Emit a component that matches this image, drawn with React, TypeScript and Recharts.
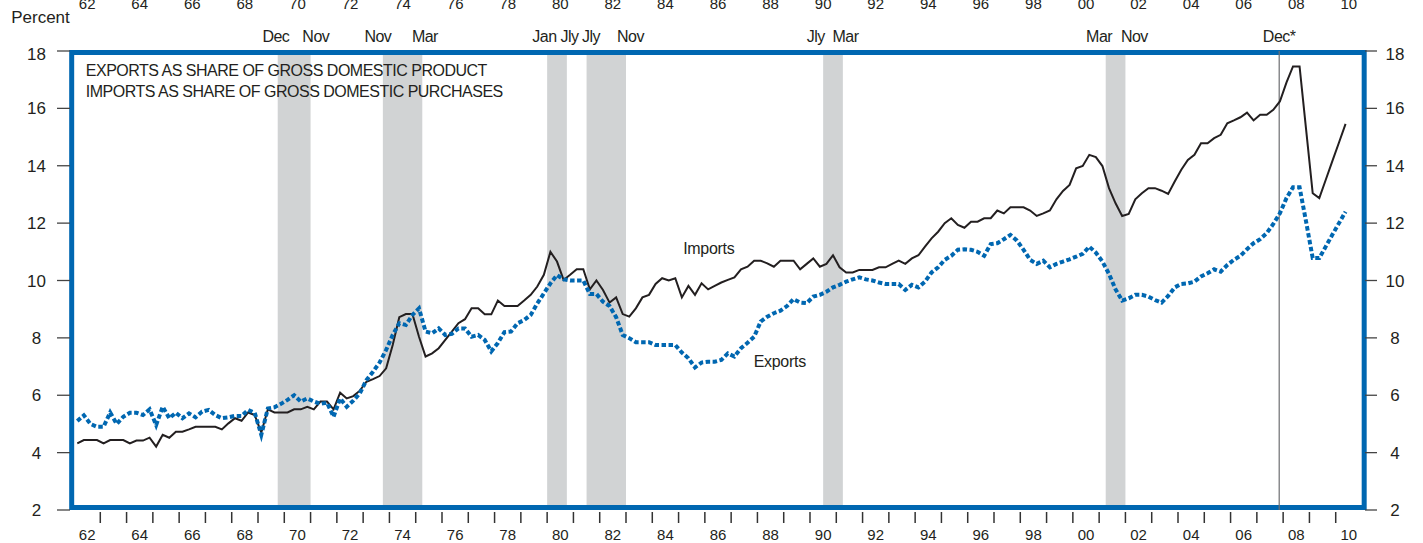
import { LineChart, Line, XAxis, YAxis, ReferenceArea, ReferenceLine, ReferenceDot } from 'recharts'

const START_YEAR = 1962
const END_YEAR = 2011

// quarterly shares, 1962Q1 .. 2010Q2 (percent)
const imports = [
  4.32, 4.44, 4.44, 4.44,
  4.32, 4.44, 4.44, 4.44,
  4.32, 4.42, 4.42, 4.52,
  4.21, 4.62, 4.52, 4.73,
  4.73, 4.81, 4.9, 4.9,
  4.9, 4.9, 4.81, 5.02,
  5.2, 5.11, 5.4, 5.31,
  4.7, 5.51, 5.4, 5.4,
  5.4, 5.51, 5.51, 5.6,
  5.51, 5.78, 5.78, 5.51,
  6.09, 5.89, 5.97, 6.16,
  6.47, 6.56, 6.67, 6.94,
  7.75, 8.72, 8.83, 8.83,
  8.04, 7.35, 7.46, 7.64,
  7.93, 8.22, 8.51, 8.65,
  9.03, 9.03, 8.82, 8.82,
  9.3, 9.11, 9.11, 9.11,
  9.3, 9.5, 9.79, 10.2,
  11.0, 10.66, 10.02, 10.2,
  10.39, 10.39, 9.69, 10.0,
  9.67, 9.23, 9.41, 8.83,
  8.74, 9.03, 9.41, 9.5,
  9.88, 10.08, 10.0, 10.08,
  9.41, 9.81, 9.5, 9.9,
  9.69, 9.81, 9.93, 10.02,
  10.11, 10.39, 10.48, 10.69,
  10.69, 10.6, 10.48, 10.69,
  10.69, 10.69, 10.39, 10.58,
  10.77, 10.48, 10.58, 10.88,
  10.46, 10.28, 10.28, 10.37,
  10.37, 10.37, 10.46, 10.46,
  10.58, 10.69, 10.58, 10.77,
  10.88, 11.18, 11.47, 11.7,
  12.0, 12.17, 11.94, 11.84,
  12.05, 12.05, 12.17, 12.17,
  12.44, 12.34, 12.55, 12.55,
  12.55, 12.44, 12.25, 12.34,
  12.44, 12.83, 13.12, 13.33,
  13.91, 13.99, 14.38, 14.3,
  13.99, 13.22, 12.69, 12.25,
  12.32, 12.83, 13.04, 13.22,
  13.22, 13.13, 13.02, 13.45,
  13.86, 14.2, 14.38, 14.78,
  14.78, 14.96, 15.08, 15.48,
  15.58, 15.69, 15.85, 15.58,
  15.78, 15.78, 15.95, 16.24,
  16.9, 17.46, 17.46, 15.25,
  13.04, 12.87, 13.52, 14.17,
  14.81, 15.46,
]

const exportsShare = [
  5.1, 5.3, 5.0, 4.9,
  4.9, 5.4, 5.0, 5.25,
  5.39, 5.39, 5.31, 5.51,
  4.96, 5.6, 5.2, 5.39,
  5.2, 5.37, 5.23, 5.43,
  5.49, 5.31, 5.2, 5.23,
  5.28, 5.28, 5.49, 5.39,
  4.62, 5.54, 5.58, 5.7,
  5.84, 6.0, 5.78, 5.89,
  5.78, 5.7, 5.74, 5.25,
  5.89, 5.6, 5.81, 6.07,
  6.53, 6.82, 7.14, 7.58,
  8.1, 8.51, 8.45, 8.8,
  9.03, 8.22, 8.16, 8.33,
  8.1, 8.14, 8.33, 8.33,
  8.04, 8.1, 7.93, 7.53,
  7.82, 8.2, 8.22, 8.51,
  8.62, 8.8, 9.2, 9.55,
  9.9, 10.19, 10.04, 10.0,
  10.0, 10.0, 9.53, 9.53,
  9.26, 9.11, 8.72, 8.1,
  7.99, 7.85, 7.85, 7.85,
  7.75, 7.75, 7.75, 7.75,
  7.49, 7.29, 6.97, 7.14,
  7.17, 7.17, 7.23, 7.46,
  7.35, 7.64, 7.83, 8.04,
  8.57, 8.74, 8.86, 8.95,
  9.11, 9.35, 9.23, 9.21,
  9.44, 9.5, 9.61, 9.76,
  9.85, 9.96, 10.04, 10.11,
  10.04, 10.0, 9.93, 9.88,
  9.88, 9.88, 9.67, 9.85,
  9.76, 9.96, 10.28, 10.46,
  10.72, 10.86, 11.07, 11.09,
  11.07, 11.0, 10.86, 11.27,
  11.3, 11.44, 11.59, 11.39,
  11.07, 10.72, 10.58, 10.69,
  10.46, 10.58, 10.66, 10.74,
  10.83, 10.93, 11.18, 10.97,
  10.66, 10.23, 9.69, 9.3,
  9.38, 9.5, 9.5, 9.44,
  9.32, 9.23, 9.46, 9.76,
  9.88, 9.9, 9.96, 10.14,
  10.25, 10.39, 10.31, 10.54,
  10.72, 10.86, 11.09, 11.3,
  11.44, 11.65, 11.97, 12.34,
  12.87, 13.25, 13.25, 12.04,
  10.78, 10.78, 11.19, 11.6,
  12.0, 12.4,
]

// recessions, shaded by quarter
const recessions = [
  [1969.75, 1971.0],
  [1973.75, 1975.25],
  [1980.0, 1980.75],
  [1981.5, 1983.0],
  [1990.5, 1991.25],
  [2001.25, 2002.0],
]

const recessionLabels = [
  { text: 'Dec', at: 1969.68 },
  { text: 'Nov', at: 1971.2 },
  { text: 'Nov', at: 1973.56 },
  { text: 'Mar', at: 1975.35 },
  { text: 'Jan', at: 1979.9 },
  { text: 'Jly', at: 1980.85 },
  { text: 'Jly', at: 1981.67 },
  { text: 'Nov', at: 1983.17 },
  { text: 'Jly', at: 1990.22 },
  { text: 'Mar', at: 1991.35 },
  { text: 'Mar', at: 2001.0 },
  { text: 'Nov', at: 2002.34 },
]

const DEC_2007 = 2007.85
const yTicks = [2, 4, 6, 8, 10, 12, 14, 16, 18]
const yearTicks = Array.from({ length: END_YEAR - START_YEAR + 1 }, (_, i) => START_YEAR + i)
const yearLabelTicks = Array.from({ length: 25 }, (_, i) => START_YEAR + 2 * i + 0.5)
const bottomTicks = [...yearTicks, ...yearLabelTicks].sort((a, b) => a - b)

const quarters = imports.map((_, i) => START_YEAR + Math.floor(i / 4) + ((i % 4) + 0.5) / 4)
const data = quarters.map((t, i) => ({ t, imports: imports[i], exports: exportsShare[i] }))

const BLUE = '#0067b1'
const INK = '#231f20'
const SHADE = '#d1d3d4'
const FONT = '"Liberation Sans", Arial, Helvetica, sans-serif'

const yearLabel = (v: number) => String(Math.floor(v) % 100).padStart(2, '0')

function BottomTick({ x, y, payload }: any) {
  const v = payload.value
  if (Number.isInteger(v)) {
    if (v === START_YEAR || v === END_YEAR) return <g />
    return <line x1={x} x2={x} y1={y + 2} y2={y + 13} stroke="#333" strokeWidth={1.5} />
  }
  return (
    <text x={x} y={y + 30} textAnchor="middle" fontSize={15} fill={INK}>
      {yearLabel(v)}
    </text>
  )
}

function TopTick({ x, y, payload }: any) {
  return (
    <text x={x} y={y - 42.5} textAnchor="middle" fontSize={15} fill={INK}>
      {yearLabel(payload.value)}
    </text>
  )
}

// the top label sits a little low in the original
const labelDy = (v: number) => (v === 18 ? 9 : 6)

function LeftTick({ x, y, payload }: any) {
  return (
    <g>
      <line x1={x - 17} x2={x - 4} y1={y} y2={y} stroke="#444" strokeWidth={1.3} />
      <text x={x - 37.5} y={y + labelDy(payload.value)} textAnchor="middle" fontSize={17} fill={INK}>
        {payload.value}
      </text>
    </g>
  )
}

function RightTick({ x, y, payload }: any) {
  return (
    <g>
      <line x1={x + 3} x2={x + 15} y1={y} y2={y} stroke="#444" strokeWidth={1.3} />
      <text x={x + 33} y={y + labelDy(payload.value)} textAnchor="middle" fontSize={17} fill={INK}>
        {payload.value}
      </text>
    </g>
  )
}

function textAt(text: string, anchor: 'start' | 'middle', dy: number, size: number, spacing = 0) {
  return ({ viewBox }: any) => (
    <text
      x={viewBox.x}
      y={viewBox.y + dy}
      textAnchor={anchor}
      fontSize={size}
      letterSpacing={spacing}
      fill={INK}
    >
      {text}
    </text>
  )
}

export default function App() {
  return (
    <div style={{ position: 'absolute', left: 0, top: 0, fontFamily: FONT }}>
      <LineChart width={1423} height={543} data={data} margin={{ top: 21, right: 11, bottom: 3, left: 4 }}>
        <XAxis
          dataKey="t"
          type="number"
          domain={[START_YEAR, END_YEAR]}
          ticks={bottomTicks}
          interval={0}
          tick={<BottomTick />}
          tickLine={false}
          axisLine={false}
          tickSize={0}
          tickMargin={0}
          height={30}
          allowDataOverflow
        />
        <XAxis
          xAxisId="top"
          dataKey="t"
          orientation="top"
          type="number"
          domain={[START_YEAR, END_YEAR]}
          ticks={yearLabelTicks}
          interval={0}
          tick={<TopTick />}
          tickLine={false}
          axisLine={false}
          tickSize={0}
          tickMargin={0}
          height={30}
          allowDataOverflow
        />
        <YAxis
          domain={[2, 18]}
          ticks={yTicks}
          interval={0}
          tick={<LeftTick />}
          tickLine={false}
          axisLine={false}
          tickSize={0}
          tickMargin={0}
          width={70}
          allowDataOverflow
          label={{
            content: ({ viewBox }: any) => (
              <text x={viewBox.x + 36.5} y={viewBox.y - 28.5} textAnchor="middle" fontSize={17} fill={INK}>
                Percent
              </text>
            ),
          }}
        />
        <YAxis
          yAxisId="right"
          orientation="right"
          domain={[2, 18]}
          ticks={yTicks}
          interval={0}
          tick={<RightTick />}
          tickLine={false}
          axisLine={false}
          tickSize={0}
          tickMargin={0}
          width={50}
          allowDataOverflow
        />

        {recessions.map(([a, b]) => (
          <ReferenceArea key={a} x1={a} x2={b} y1={2} y2={18} fill={SHADE} fillOpacity={1} stroke="none" />
        ))}

        <ReferenceLine
          x={DEC_2007}
          stroke="#6d6e71"
          strokeWidth={1.2}
          label={{ content: textAt('Dec*', 'middle', -9, 16, -0.5) }}
        />

        {/* invisible copy so the top year axis gets a scale */}
        <Line
          xAxisId="top"
          yAxisId="right"
          type="linear"
          dataKey="imports"
          stroke="none"
          dot={false}
          activeDot={false}
          legendType="none"
          isAnimationActive={false}
        />
        <Line
          type="linear"
          dataKey="imports"
          stroke={INK}
          strokeWidth={2}
          dot={false}
          isAnimationActive={false}
        />
        <Line
          type="linear"
          dataKey="exports"
          stroke={BLUE}
          strokeWidth={4}
          strokeDasharray="4.5 2.5"
          dot={false}
          isAnimationActive={false}
        />

        <ReferenceArea
          x1={1961.912}
          x2={2011.083}
          y1={2.087}
          y2={17.948}
          fill="none"
          stroke={BLUE}
          strokeWidth={5}
          ifOverflow="visible"
        />

        {recessionLabels.map((l, i) => (
          <ReferenceDot
            key={i}
            x={l.at}
            y={18}
            r={0}
            fill="none"
            stroke="none"
            label={{ content: textAt(l.text, 'middle', -9, 16, -0.5) }}
          />
        ))}

        <ReferenceDot
          x={1962.45}
          y={17.31}
          r={0}
          fill="none"
          stroke="none"
          label={{ content: textAt('EXPORTS AS SHARE OF GROSS DOMESTIC PRODUCT', 'start', 5.5, 16, -0.5) }}
        />
        <ReferenceDot
          x={1962.45}
          y={16.6}
          r={0}
          fill="none"
          stroke="none"
          label={{ content: textAt('IMPORTS AS SHARE OF GROSS DOMESTIC PURCHASES', 'start', 5.5, 16, -0.5) }}
        />
        <ReferenceDot
          x={1986.15}
          y={11.1}
          r={0}
          fill="none"
          stroke="none"
          label={{ content: textAt('Imports', 'middle', 5.5, 16, -0.3) }}
        />
        <ReferenceDot
          x={1988.85}
          y={7.17}
          r={0}
          fill="none"
          stroke="none"
          label={{ content: textAt('Exports', 'middle', 5.5, 16, -0.3) }}
        />
      </LineChart>
    </div>
  )
}
